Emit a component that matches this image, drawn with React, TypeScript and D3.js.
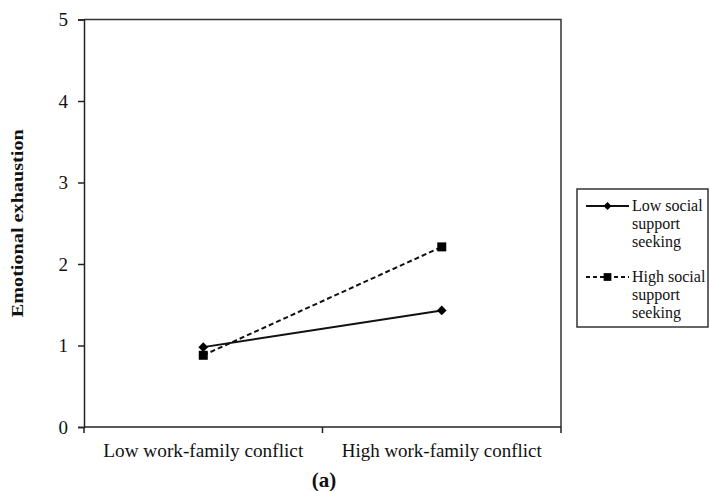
import React, { useRef, useEffect } from 'react';
import * as d3 from 'd3';

// conflict levels on the x axis
const conflictLevels = ['Low work-family conflict', 'High work-family conflict'];
// emotional exhaustion for each support-seeking group
const lowSupport = [0.98, 1.43];
const highSupport = [0.88, 2.21];
const yTicks = [0, 1, 2, 3, 4, 5];
const seriesNames = [['Low social', 'support', 'seeking'], ['High social', 'support', 'seeking']];

const W = 710;
const H = 491;
const FONT = '"Liberation Serif", "DejaVu Serif", serif';

const App = () => {
  const ref = useRef<SVGSVGElement>(null);

  useEffect(() => {
    document.body.style.margin = '0';
    const svg = d3.select(ref.current);
    svg.selectAll('*').remove();

    const left = 84, right = 561, top = 19.5, bottom = 427;

    const x = d3.scaleBand<string>().domain(conflictLevels).range([left, right]);
    const y = d3.scaleLinear().domain([0, 5]).range([bottom, top]);

    // frame top and right
    svg.append('path')
      .attr('d', `M${left},${top}H${right}V${bottom}`)
      .attr('fill', 'none')
      .attr('stroke', '#333')
      .attr('stroke-width', 1.5);

    // y axis
    const yAxis = svg.append('g')
      .attr('transform', `translate(${left},0)`)
      .call(d3.axisLeft(y).tickValues(yTicks).tickSize(6).tickPadding(10).tickFormat(d3.format('d')));
    yAxis.attr('font-family', null).attr('font-size', null);
    yAxis.select('.domain').attr('stroke', '#222').attr('stroke-width', 1.5);
    yAxis.selectAll('.tick line').attr('stroke', '#222').attr('stroke-width', 1.5);
    yAxis.selectAll('.tick text')
      .style('font-family', FONT)
      .style('font-size', '19px')
      .attr('fill', '#111')
      .attr('dy', '0.34em');

    // x axis: ticks sit on band edges
    const xg = svg.append('g').attr('transform', `translate(0,${bottom})`);
    xg.append('line')
      .attr('x1', left).attr('x2', right)
      .attr('stroke', '#222').attr('stroke-width', 1.5);
    const edges = [left, ...conflictLevels.map(c => (x(c) as number) + x.bandwidth())];
    xg.selectAll('line.edge')
      .data(edges)
      .enter()
      .append('line')
      .attr('class', 'edge')
      .attr('x1', d => d).attr('x2', d => d)
      .attr('y1', 0).attr('y2', 6)
      .attr('stroke', '#222').attr('stroke-width', 1.5);
    xg.selectAll('text')
      .data(conflictLevels)
      .enter()
      .append('text')
      .attr('x', d => (x(d) as number) + x.bandwidth() / 2)
      .attr('y', 30)
      .attr('text-anchor', 'middle')
      .attr('textLength', 200)
      .attr('lengthAdjust', 'spacingAndGlyphs')
      .style('font-family', FONT)
      .style('font-size', '19px')
      .attr('fill', '#111')
      .text(d => d);

    // y title
    svg.append('text')
      .attr('transform', `translate(23,${(top + bottom) / 2}) rotate(-90)`)
      .attr('text-anchor', 'middle')
      .attr('textLength', 188)
      .attr('lengthAdjust', 'spacingAndGlyphs')
      .style('font-family', FONT)
      .style('font-size', '17px')
      .style('font-weight', 'bold')
      .attr('fill', '#111')
      .text('Emotional exhaustion');

    // caption
    svg.append('text')
      .attr('x', 324)
      .attr('y', 487)
      .attr('text-anchor', 'middle')
      .style('font-family', FONT)
      .style('font-size', '21px')
      .style('font-weight', 'bold')
      .attr('fill', '#111')
      .text('(a)');

    const cx = (c: string) => (x(c) as number) + x.bandwidth() / 2;
    const line = d3.line<number>()
      .x((d, i) => cx(conflictLevels[i]))
      .y(d => y(d));

    const diamond = d3.symbol().type(d3.symbolDiamond2).size(60);
    const square = d3.symbol().type(d3.symbolSquare).size(81);

    // high support (dashed, squares)
    svg.append('path')
      .attr('d', line(highSupport))
      .attr('fill', 'none')
      .attr('stroke', '#111')
      .attr('stroke-width', 2)
      .attr('stroke-dasharray', '5,3');
    svg.selectAll('path.sq')
      .data(highSupport)
      .enter()
      .append('path')
      .attr('class', 'sq')
      .attr('d', square)
      .attr('transform', (d, i) => `translate(${cx(conflictLevels[i])},${y(d)})`)
      .attr('fill', '#000');

    // low support (solid, diamonds)
    svg.append('path')
      .attr('d', line(lowSupport))
      .attr('fill', 'none')
      .attr('stroke', '#111')
      .attr('stroke-width', 2);
    svg.selectAll('path.dm')
      .data(lowSupport)
      .enter()
      .append('path')
      .attr('class', 'dm')
      .attr('d', diamond)
      .attr('transform', (d, i) => `translate(${cx(conflictLevels[i])},${y(d)})`)
      .attr('fill', '#000');

    // legend
    const lg = svg.append('g');
    lg.append('rect')
      .attr('x', 577).attr('y', 189)
      .attr('width', 131).attr('height', 138)
      .attr('fill', '#fff')
      .attr('stroke', '#333')
      .attr('stroke-width', 1.5);

    const rows = [206, 277];
    seriesNames.forEach((names, i) => {
      const ly = rows[i];
      lg.append('line')
        .attr('x1', 586).attr('x2', 629)
        .attr('y1', ly).attr('y2', ly)
        .attr('stroke', '#111')
        .attr('stroke-width', 2)
        .attr('stroke-dasharray', i === 1 ? '4,3' : null);
      lg.append('path')
        .attr('d', i === 1 ? d3.symbol().type(d3.symbolSquare).size(60)() : d3.symbol().type(d3.symbolDiamond2).size(40)())
        .attr('transform', `translate(607.5,${ly})`)
        .attr('fill', '#000');
      lg.selectAll(null)
        .data(names)
        .enter()
        .append('text')
        .attr('x', 632)
        .attr('y', (d, j) => ly + j * 17.8)
        .attr('dy', '0.32em')
        .style('font-family', FONT)
        .style('font-size', '16px')
        .attr('fill', '#111')
        .text(d => d);
    });
  }, []);

  return <svg ref={ref} width={W} height={H} style={{ display: 'block', background: '#fff' }}></svg>;
};

export default App;
